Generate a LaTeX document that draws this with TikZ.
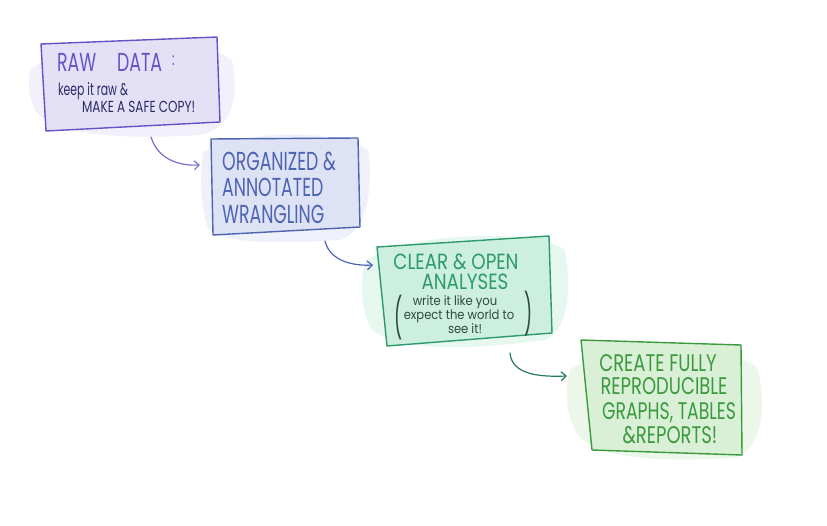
\documentclass[tikz,border=0pt]{standalone}
\usepackage{fontspec}
\setmainfont{Poppins}
\usetikzlibrary{arrows.meta}
\definecolor{cA}{HTML}{6254C6}
\definecolor{cAf}{HTML}{E4E1F7}
\definecolor{cAt}{HTML}{2B2A66}
\definecolor{cB}{HTML}{4E64B3}
\definecolor{cBf}{HTML}{DDE3F4}
\definecolor{cC}{HTML}{2E9A6C}
\definecolor{cCf}{HTML}{CDEFE0}
\definecolor{cCt}{HTML}{2F4A40}
\definecolor{cD}{HTML}{3B9A3E}
\definecolor{cDf}{HTML}{D9F0D6}
\tikzset{
  boxline/.style={line width=1.4pt, line join=round},
  wash/.style={opacity=0.5},
  title/.style={font=\fontsize{26}{27}\selectfont, xscale=0.667, transform shape, align=center, inner sep=0pt},
  small/.style={font=\fontsize{16}{16}\selectfont, xscale=0.75, transform shape, inner sep=0pt},
  note/.style={font=\fontsize{13}{13}\selectfont, xscale=0.89, transform shape, inner sep=0pt, text=cCt, anchor=base},
  flow/.style={line width=1.2pt, line cap=round, -{Straight Barb[length=5pt,width=9pt,line width=1.2pt]}},
}
\begin{document}
\begin{tikzpicture}[x=1pt,y=-1pt]
\useasboundingbox (0,0) rectangle (827,526);
% --- box 1 ---
\coordinate (a1) at (41,44); \coordinate (a2) at (217,37);
\coordinate (a3) at (220,122); \coordinate (a4) at (46,131);
\fill[cAf,wash] (30,70) .. controls (60,40) and (200,35) .. (232,60) .. controls (240,100) and (230,130) .. (200,135) .. controls (120,140) and (50,135) .. (35,110) .. controls (28,95) and (28,80) .. (30,70) -- cycle;
\fill[cAf] (a1) -- (a2) -- (a3) -- (a4) -- cycle;
\draw[boxline,cA] (a1) -- (a2) -- (a3) -- (a4) -- cycle;
\node[title,text=cA,anchor=base west] (t1) at (57,72) {RAW};
\node[title,text=cA,anchor=base west] (t1d) at (117,72) {DATA};
\node[title,text=cA,anchor=base west,font=\fontsize{18}{18}\selectfont] (t1e) at (172,66) {:};
\node[small,text=cAt,anchor=base west,font=\fontsize{17}{17}\selectfont,xscale=0.85] (t1b) at (58,96) {keep it raw \&};
\node[small,text=cAt,anchor=base west] (t1c) at (82,113) {MAKE A SAFE COPY!};
% --- box 2 ---
\coordinate (b1) at (211,139); \coordinate (b2) at (358,138);
\coordinate (b3) at (360,227); \coordinate (b4) at (213,235);
\fill[cBf,wash] (203,152) .. controls (250,128) and (340,130) .. (368,150) .. controls (374,190) and (366,232) .. (340,240) .. controls (280,244) and (222,244) .. (208,228) .. controls (200,205) and (200,175) .. (203,152) -- cycle;
\fill[cBf] (b1) -- (b2) -- (b3) -- (b4) -- cycle;
\draw[boxline,cB] (b1) -- (b2) -- (b3) -- (b4) -- cycle;
\node[title,text=cB,align=left,anchor=base west] (t2a) at (222,171) {ORGANIZED \&};
\node[title,text=cB,align=left,anchor=base west] (t2b) at (222,197) {ANNOTATED};
\node[title,text=cB,align=left,anchor=base west] (t2c) at (222,224) {WRANGLING};
% --- box 3 ---
\coordinate (c1) at (377,247); \coordinate (c2) at (549,236);
\coordinate (c3) at (552,333); \coordinate (c4) at (387,346);
\fill[cCf,wash] (365,262) .. controls (400,232) and (540,228) .. (565,250) .. controls (572,290) and (568,330) .. (545,340) .. controls (470,350) and (400,352) .. (372,330) .. controls (360,310) and (360,280) .. (365,262) -- cycle;
\fill[cCf] (c1) -- (c2) -- (c3) -- (c4) -- cycle;
\draw[boxline,cC] (c1) -- (c2) -- (c3) -- (c4) -- cycle;
\node[title,text=cC,anchor=base,font=\fontsize{22}{22}\selectfont,xscale=0.83/0.667] (t3a) at (456,270) {CLEAR \& OPEN};
\node[title,text=cC,anchor=base,font=\fontsize{22}{22}\selectfont,xscale=0.83/0.667] (t3b) at (465,290) {ANALYSES};
\node[note] (t3c) at (455,306) {write it like you};
\node[note] (t3d) at (459,320) {expect the world to};
\node[note] (t3e) at (465,334) {see it!};
\node[text=cCt,font=\fontsize{40}{40}\selectfont,xscale=0.45,inner sep=0pt] (p1) at (399,318) {(};
\node[text=cCt,font=\fontsize{40}{40}\selectfont,xscale=0.45,inner sep=0pt] (p2) at (529,314) {)};
% --- box 4 ---
\coordinate (d1) at (581,340); \coordinate (d2) at (741,345);
\coordinate (d3) at (742,455); \coordinate (d4) at (592,450);
\fill[cDf,wash] (570,370) .. controls (600,345) and (740,340) .. (758,370) .. controls (768,410) and (760,450) .. (735,458) .. controls (660,462) and (590,460) .. (575,430) .. controls (565,410) and (565,385) .. (570,370) -- cycle;
\fill[cDf] (d1) -- (d2) -- (d3) -- (d4) -- cycle;
\draw[boxline,cD] (d1) -- (d2) -- (d3) -- (d4) -- cycle;
\node[title,text=cD,anchor=base,font=\fontsize{24}{24}\selectfont,xscale=0.75/0.667] (t4a) at (658,371) {CREATE FULLY};
\node[title,text=cD,anchor=base,font=\fontsize{24}{24}\selectfont,xscale=0.75/0.667] (t4b) at (664,394) {REPRODUCIBLE};
\node[title,text=cD,anchor=base,font=\fontsize{24}{24}\selectfont,xscale=0.72/0.667] (t4c) at (669,419) {GRAPHS, TABLES};
\node[title,text=cD,anchor=base,font=\fontsize{24}{24}\selectfont,xscale=0.75/0.667] (t4d) at (670,443) {\&REPORTS!};
% --- arrows ---
\coordinate (s1) at (151,137); \coordinate (e1) at (200,165);
\coordinate (s2) at (325,241); \coordinate (e2) at (373,265);
\coordinate (s3) at (510,353); \coordinate (e3) at (567,376);
\draw[flow,cA!85!white] (s1) .. controls (158,160) and (180,166) .. (e1);
\draw[flow,cB] (s2) .. controls (330,262) and (355,266) .. (e2);
\draw[flow,cC!80!black] (s3) .. controls (512,375) and (540,377) .. (e3);
\end{tikzpicture}
\end{document}
